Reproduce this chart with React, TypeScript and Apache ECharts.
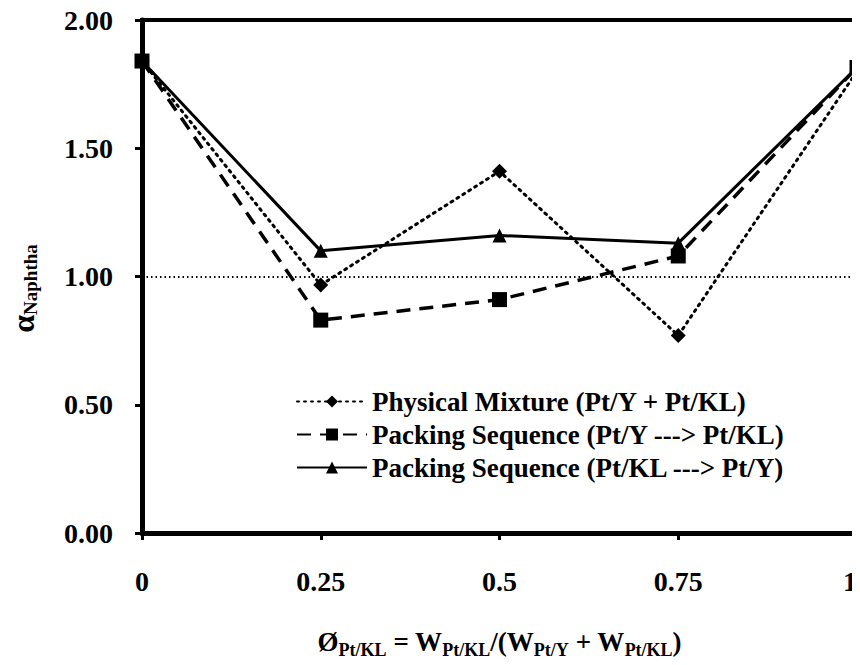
import React, { useEffect, useRef } from "react";
import * as echarts from "echarts";

const xValues = [0, 0.25, 0.5, 0.75, 1];
const physicalMixture = [1.84, 0.967, 1.41, 0.77, 1.8];
const packingYtoKL = [1.84, 0.83, 0.91, 1.08, 1.815];
const packingKLtoY = [1.84, 1.1, 1.16, 1.13, 1.815];
const seriesNames = [
  "Physical Mixture (Pt/Y + Pt/KL)",
  "Packing Sequence (Pt/Y ---> Pt/KL)",
  "Packing Sequence (Pt/KL ---> Pt/Y)",
];
const referenceLine = 1.0;

const FONT = "'Liberation Serif', 'Times New Roman', serif";

export default function App() {
  const ref = useRef<HTMLDivElement>(null);
  useEffect(() => {
    if (!ref.current) return;
    const chart = echarts.init(ref.current, undefined, { renderer: "svg" });
    const toPairs = (arr: number[]) => xValues.map((x, i) => [x, arr[i]]);
    const main = { fontFamily: FONT, fontWeight: "bold", fontSize: 27, color: "#000" };
    const sub = { fontFamily: FONT, fontWeight: "bold", fontSize: 18, color: "#000", padding: [16, 0, 0, 0] };
    chart.setOption({
      animation: false,
      backgroundColor: "#fff",
      grid: {
        left: 142,
        right: 3,
        top: 20,
        bottom: 132,
        show: true,
        borderColor: "#000",
        borderWidth: 4,
        containLabel: false,
        outerBoundsMode: "none",
      },
      legend: {
        orient: "vertical",
        left: 291,
        top: 383,
        itemWidth: 70,
        itemHeight: 15,
        itemGap: 6,
        data: seriesNames,
        textStyle: { fontFamily: FONT, fontWeight: "bold", fontSize: 27, color: "#000", lineHeight: 26 },
      },
      xAxis: {
        type: "value",
        min: 0,
        max: 1,
        interval: 0.25,
        axisLine: { show: true, lineStyle: { color: "#000", width: 5 } },
        axisTick: { show: true, inside: false, length: 7, lineStyle: { color: "#000", width: 3 } },
        splitLine: { show: false },
        axisLabel: {
          margin: 34,
          showMinLabel: true,
          showMaxLabel: true,
          hideOverlap: false,
          alignMaxLabel: "right",
          fontFamily: FONT,
          fontWeight: "bold",
          fontSize: 28,
          color: "#000",
          formatter: (v: number) => String(v),
        },
        name: "{m|Ø}{s|Pt/KL}{m| = W}{s|Pt/KL}{m|/(W}{s|Pt/Y}{m| + W}{s|Pt/KL}{m|)}",
        nameLocation: "middle",
        nameGap: 92,
        nameTextStyle: { rich: { m: main, s: sub } },
      },
      yAxis: {
        type: "value",
        min: 0,
        max: 2,
        interval: 0.5,
        axisLine: { show: true, lineStyle: { color: "#000", width: 5 } },
        axisTick: { show: true, inside: false, length: 7, lineStyle: { color: "#000", width: 3 } },
        splitLine: { show: false },
        axisLabel: {
          margin: 29,
          fontFamily: FONT,
          fontWeight: "bold",
          fontSize: 28,
          color: "#000",
          formatter: (v: number) => v.toFixed(2),
        },
        name: "{m|α}{s|Naphtha}",
        nameLocation: "middle",
        nameRotate: 90,
        nameGap: 102,
        nameTextStyle: {
          padding: [0, 0, 0, -24],
          rich: { m: { ...main, fontSize: 32 }, s: { ...sub, fontSize: 19, padding: [16, 0, 0, 0] } },
        },
      },
      series: [
        {
          name: seriesNames[0],
          type: "line",
          data: toPairs(physicalMixture),
          symbol: "diamond",
          symbolSize: 15,
          itemStyle: { color: "#000" },
          lineStyle: { color: "#000", width: 3, type: [2, 5], cap: "round" },
          z: 3,
          markLine: {
            silent: true,
            symbol: "none",
            label: { show: false },
            lineStyle: { color: "#000", width: 1.8, type: [1.5, 3] },
            data: [{ yAxis: referenceLine }],
          },
        },
        {
          name: seriesNames[1],
          type: "line",
          data: toPairs(packingYtoKL),
          symbol: "rect",
          symbolSize: 15,
          itemStyle: { color: "#000" },
          lineStyle: { color: "#000", width: 3.5, type: [14, 9] },
          z: 4,
        },
        {
          name: seriesNames[2],
          type: "line",
          data: toPairs(packingKLtoY),
          symbol: "triangle",
          symbolSize: 14,
          itemStyle: { color: "#000" },
          lineStyle: { color: "#000", width: 3 },
          z: 5,
        },
      ],
    });
    return () => chart.dispose();
  }, []);
  return <div ref={ref} style={{ width: 860, height: 665, margin: -8 }} />;
}
